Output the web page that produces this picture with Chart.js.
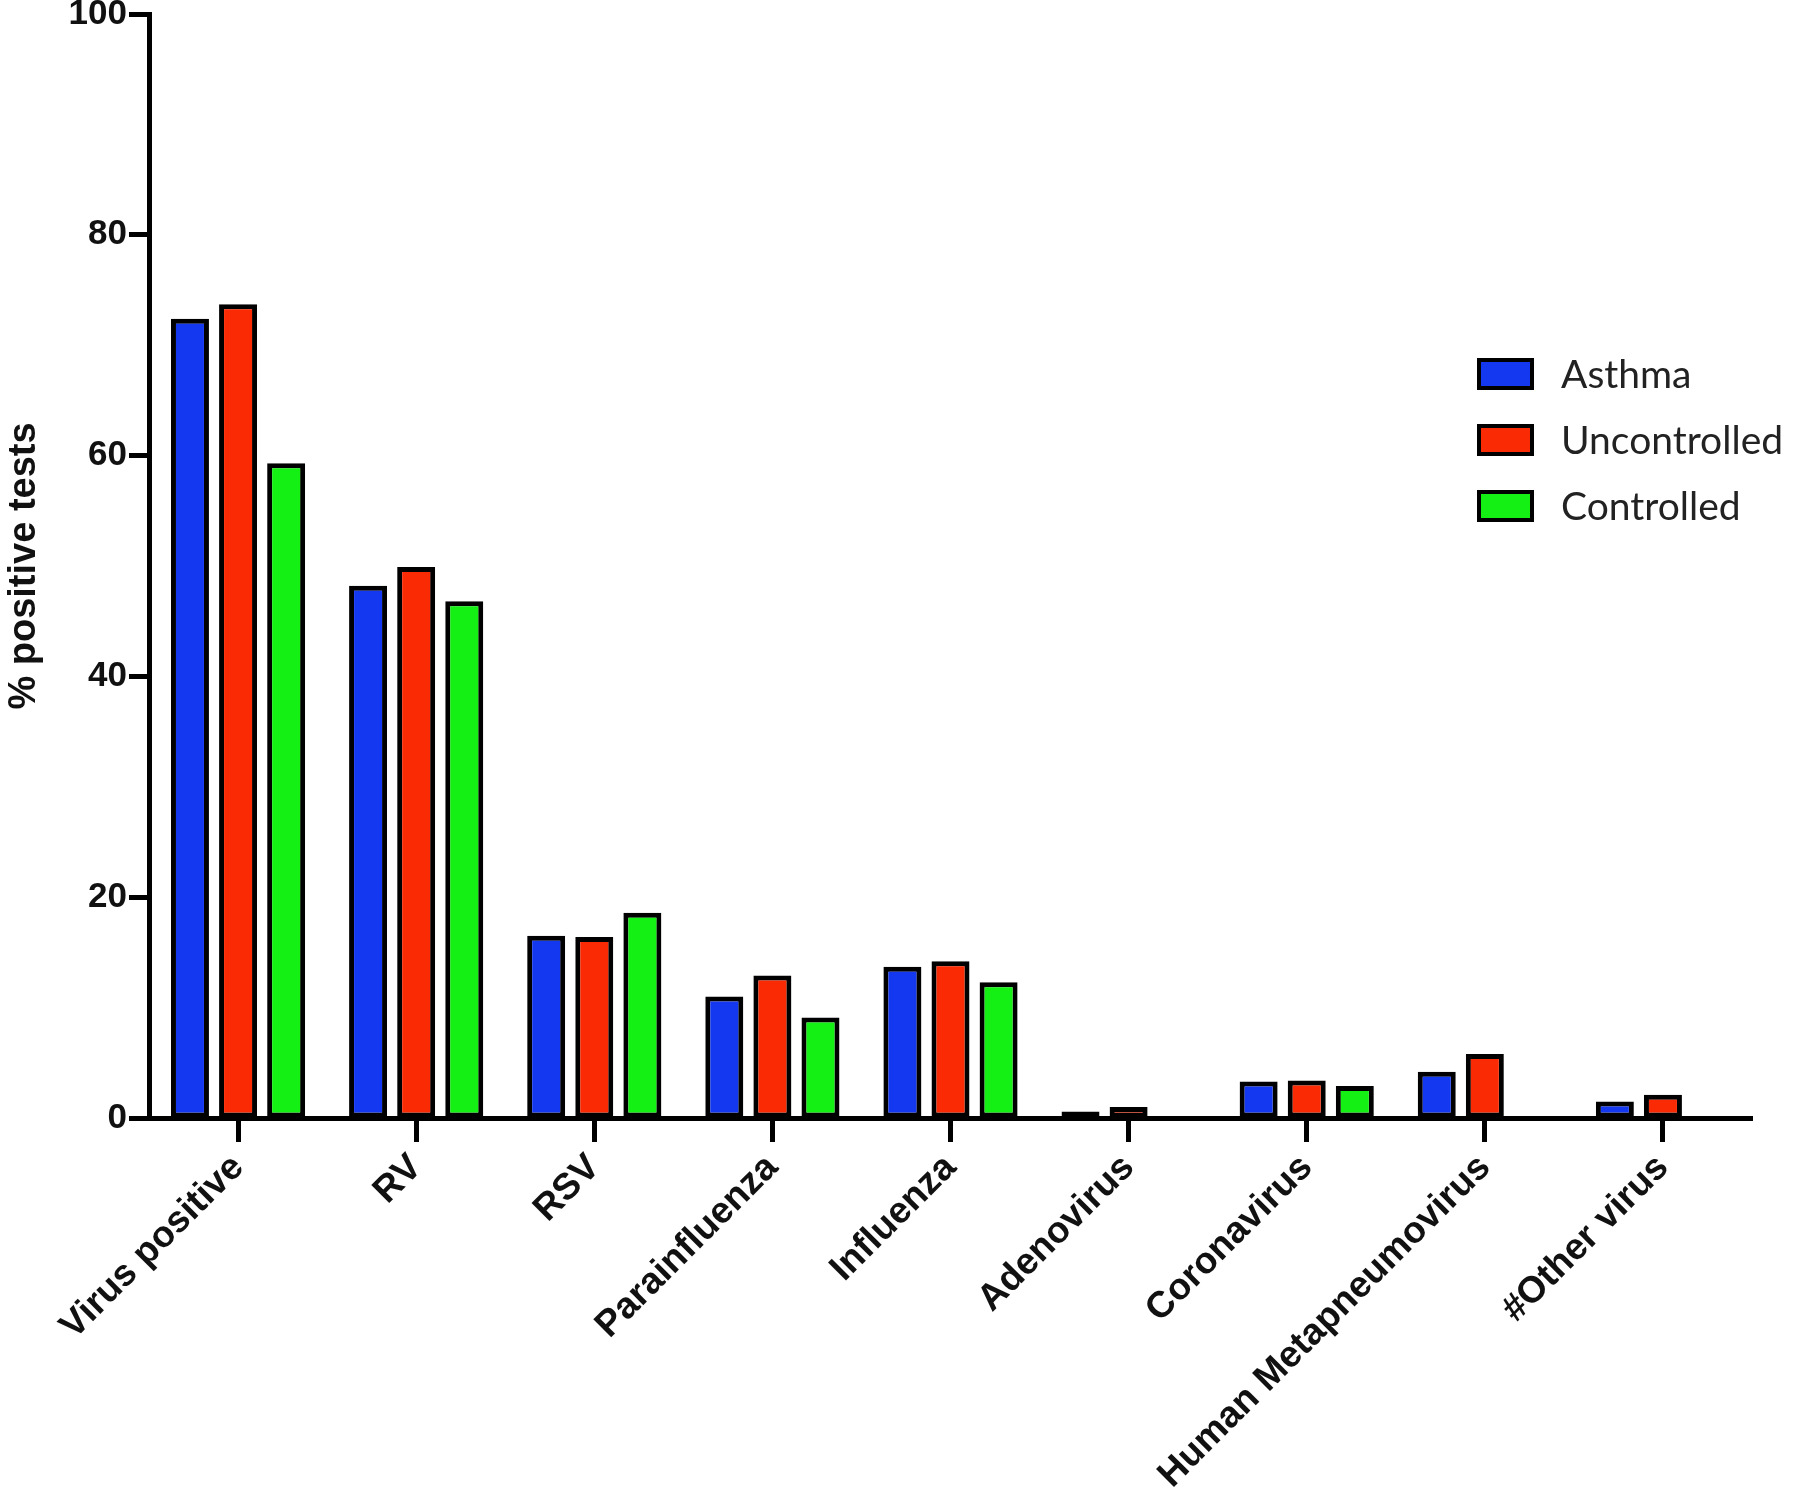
<!DOCTYPE html>
<html>
<head>
<meta charset="utf-8">
<script src="https://cdn.jsdelivr.net/npm/chart.js@4.4.1/dist/chart.umd.min.js"></script>
<style>
  html, body { margin: 0; padding: 0; background: #ffffff; }
  #wrap { width: 1800px; height: 1495px; position: relative; }
</style>
</head>
<body>
<div id="wrap"><canvas id="c"></canvas></div>
<script>
const categories = ['Virus positive', 'RV', 'RSV', 'Parainfluenza', 'Influenza', 'Adenovirus', 'Coronavirus', 'Human Metapneumovirus', '#Other virus'];
const seriesNames = ['Asthma', 'Uncontrolled', 'Controlled'];
const asthma = [72.4, 48.2, 16.5, 11.0, 13.7, 0.6, 3.3, 4.2, 1.5];
const uncontrolled = [73.7, 49.9, 16.4, 12.9, 14.2, 1.0, 3.4, 5.8, 2.1];
const controlled = [59.3, 46.8, 18.6, 9.1, 12.3, null, 2.9, null, null];
const yTicks = [0, 20, 40, 60, 80, 100];
const yTitle = '% positive tests';

const FONT = "'Liberation Sans', Arial, Helvetica, sans-serif";
const colors = ['#1438f0', '#fa2a05', '#14f014'];

const legendPlugin = {
  id: 'insideLegend',
  afterDraw(chart, args, opts) {
    const ctx = chart.ctx;
    ctx.save();
    chart.data.datasets.forEach((ds, i) => {
      const y = opts.y + i * opts.rowGap;
      ctx.fillStyle = ds.backgroundColor;
      ctx.fillRect(opts.x, y - opts.boxH / 2, opts.boxW, opts.boxH);
      ctx.lineWidth = opts.boxBorder;
      ctx.strokeStyle = '#000';
      ctx.strokeRect(opts.x + opts.boxBorder / 2, y - opts.boxH / 2 + opts.boxBorder / 2,
                     opts.boxW - opts.boxBorder, opts.boxH - opts.boxBorder);
      ctx.fillStyle = '#222';
      ctx.font = opts.font;
      ctx.textAlign = 'left';
      ctx.textBaseline = 'middle';
      ctx.fillText(ds.label, opts.textX, y + 1);
    });
    ctx.restore();
  }
};

const mk = (name, data, color) => ({
  label: name,
  data: data,
  backgroundColor: color,
  borderColor: '#000',
  borderWidth: 5,
  borderSkipped: false,
  categoryPercentage: 0.81,
  barPercentage: 0.79
});

new Chart(document.getElementById('c'), {
  type: 'bar',
  data: {
    labels: categories,
    datasets: [
      mk(seriesNames[0], asthma, colors[0]),
      mk(seriesNames[1], uncontrolled, colors[1]),
      mk(seriesNames[2], controlled, colors[2])
    ]
  },
  options: {
    responsive: true,
    maintainAspectRatio: false,
    animation: false,
    layout: { padding: { left: 0, top: 14, right: 48, bottom: 0 } },
    plugins: {
      legend: { display: false },
      tooltip: { enabled: false },
      insideLegend: {
        x: 1477, y: 374, rowGap: 66, boxW: 57, boxH: 32, boxBorder: 4,
        textX: 1561, font: "39px Lato, 'Open Sans', sans-serif"
      }
    },
    scales: {
      x: {
        offset: true,
        grid: {
          offset: false, drawOnChartArea: false, drawTicks: true,
          tickLength: 24, tickWidth: 5, tickColor: '#000'
        },
        border: { display: true, color: '#000', width: 5 },
        ticks: {
          autoSkip: false, minRotation: 45, maxRotation: 45, padding: 4,
          color: '#111', font: { family: FONT, size: 37, weight: 'bold' }
        },
        afterFit(s) { s.height = 377; s.paddingLeft = 0; s.paddingRight = 0; }
      },
      y: {
        min: 0, max: 100,
        afterBuildTicks(s) { s.ticks = yTicks.map(v => ({ value: v })); },
        grid: {
          drawOnChartArea: false, drawTicks: true,
          tickLength: 20, tickWidth: 5, tickColor: '#000'
        },
        border: { display: true, color: '#000', width: 5 },
        ticks: {
          padding: 2, color: '#111',
          font: { family: FONT, size: 35, weight: 'bold' }
        },
        title: {
          display: true, text: yTitle, color: '#111',
          font: { family: FONT, size: 38, weight: 'bold' },
          padding: { top: 2, bottom: 0 }
        },
        afterFit(s) { s.width = 149; s.paddingTop = 0; s.paddingBottom = 0; }
      }
    }
  },
  plugins: [legendPlugin]
});
</script>
</body>
</html>
